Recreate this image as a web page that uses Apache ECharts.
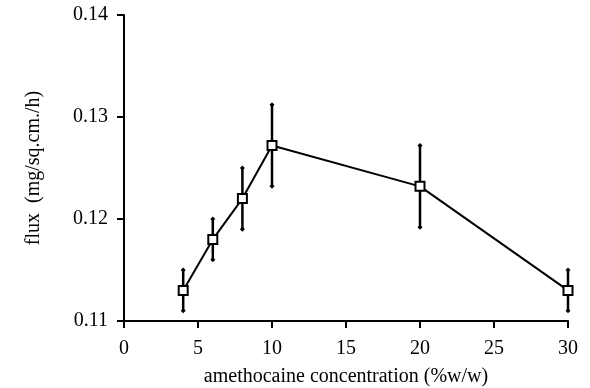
<!DOCTYPE html>
<html><head><meta charset="utf-8">
<script src="https://cdn.jsdelivr.net/npm/echarts@6/dist/echarts.min.js"></script>
<style>html,body{margin:0;padding:0;background:#fff}#c{width:590px;height:388px}</style>
</head><body><div id="c"></div>
<script>
const concentrations = [4, 6, 8, 10, 20, 30];
const fluxValues = [0.113, 0.118, 0.122, 0.1272, 0.1232, 0.113];
const fluxErrors = [0.002, 0.002, 0.003, 0.004, 0.004, 0.002];
const xTitle = 'amethocaine concentration (%w/w)';
const yTitle = 'flux  (mg/sq.cm./h)';

const font = 'Liberation Serif';
const chart = echarts.init(document.getElementById('c'), null, {renderer: 'canvas'});
const lineData = concentrations.map((x, i) => [x, fluxValues[i]]);
const errData = concentrations.map((x, i) => [x, fluxValues[i] - fluxErrors[i], fluxValues[i] + fluxErrors[i]]);

chart.setOption({
  animation: false,
  backgroundColor: '#fff',
  grid: {left: 124, right: 22, top: 15, bottom: 67, containLabel: false, outerBoundsMode: 'none'},
  xAxis: {
    type: 'value', min: 0, max: 30, interval: 5,
    name: xTitle, nameLocation: 'middle', nameGap: 46,
    nameTextStyle: {fontFamily: font, fontSize: 20, color: '#000'},
    axisLine: {show: true, onZero: false, lineStyle: {color: '#000', width: 2}},
    axisTick: {show: true, length: 7, lineStyle: {color: '#000', width: 2}},
    axisLabel: {fontFamily: font, fontSize: 20, color: '#000', margin: 18},
    splitLine: {show: false}
  },
  yAxis: {
    type: 'value', min: 0.11, max: 0.14, interval: 0.01,
    name: yTitle, nameLocation: 'middle', nameGap: 80, nameRotate: 90,
    nameTextStyle: {fontFamily: font, fontSize: 20, color: '#000'},
    axisLine: {show: true, onZero: false, lineStyle: {color: '#000', width: 2}},
    axisTick: {show: true, length: 7, lineStyle: {color: '#000', width: 2}},
    axisLabel: {fontFamily: font, fontSize: 20, color: '#000', margin: 16,
      formatter: v => v.toFixed(2)},
    splitLine: {show: false}
  },
  series: [
    {
      type: 'custom',
      data: errData,
      z: 3,
      renderItem: function (params, api) {
        const x = api.value(0);
        const lo = api.coord([x, api.value(1)]);
        const hi = api.coord([x, api.value(2)]);
        const d = 2.5;
        const diamond = (p) => ({
          type: 'polygon',
          shape: {points: [[p[0], p[1] - d], [p[0] + d, p[1]], [p[0], p[1] + d], [p[0] - d, p[1]]]},
          style: {fill: '#000'}
        });
        return {
          type: 'group',
          children: [
            {type: 'line', shape: {x1: lo[0], y1: lo[1], x2: hi[0], y2: hi[1]},
             style: {stroke: '#000', lineWidth: 2.5}},
            diamond(lo), diamond(hi)
          ]
        };
      }
    },
    {
      type: 'line',
      data: lineData,
      z: 4,
      symbol: 'rect', symbolSize: 9,
      lineStyle: {color: '#000', width: 2},
      itemStyle: {color: '#fff', borderColor: '#000', borderWidth: 2},
      emphasis: {disabled: true}
    }
  ]
});
</script></body></html>
